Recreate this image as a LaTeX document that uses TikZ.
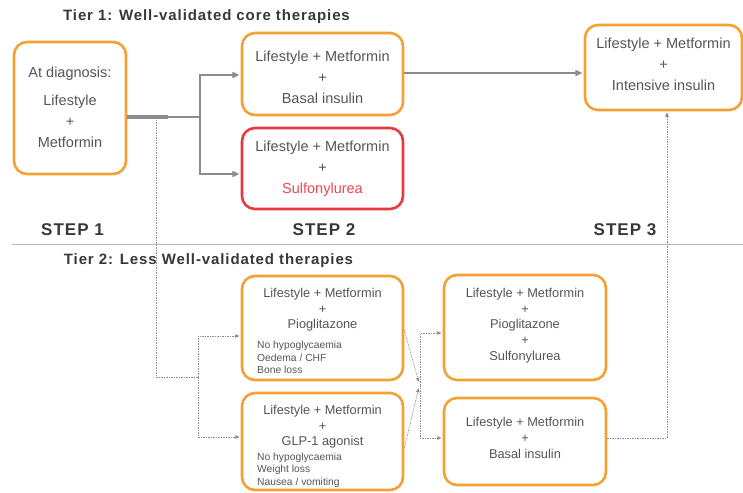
\documentclass[tikz,border=0pt]{standalone}
\usepackage{fontspec}
\setmainfont{Liberation Sans}
\newfontfamily\spacedfont[LetterSpace=6]{Liberation Sans}
\usetikzlibrary{arrows.meta}
\definecolor{boxorange}{HTML}{F5A033}
\definecolor{boxred}{HTML}{E8383F}
\definecolor{redtext}{HTML}{F04850}
\definecolor{txtgray}{HTML}{555555}
\definecolor{linegray}{HTML}{8C8C8C}
\definecolor{headgray}{HTML}{383838}
\begin{document}
\begin{tikzpicture}[x=1pt,y=-1pt,
  obox/.style={draw=boxorange, line width=2.6pt, rounded corners=13pt, fill=white, inner sep=0pt},
  rbox/.style={obox, draw=boxred},
  tone/.style={text=txtgray, align=center, inner sep=0pt, font=\fontsize{14.5}{21}\selectfont},
  ttwo/.style={text=txtgray, align=center, inner sep=0pt, font=\fontsize{12.8}{15.6}\selectfont},
  note/.style={text=txtgray, align=left, anchor=west, inner sep=0pt, font=\fontsize{10.3}{12.5}\selectfont},
  title/.style={text=headgray, inner sep=0pt, font=\spacedfont\bfseries\fontsize{15}{18}\selectfont},
  steplbl/.style={text=headgray, inner sep=0pt, font=\spacedfont\bfseries\fontsize{17}{20}\selectfont},
  mainline/.style={draw=linegray, line width=2.4pt, -{Triangle[length=7pt,width=6pt]}, shorten >=1.3pt},
  dotline/.style={draw=linegray, line width=0.6pt, dash pattern=on 1.5pt off 1pt},
  dotarrow/.style={dotline, -{Triangle[length=4pt,width=3.5pt]}, shorten >=1.3pt}
]
\useasboundingbox (0,0) rectangle (743,492);

% separator
\draw[draw=gray!55, line width=0.6pt, double=white, double distance=0.9pt] (12,245) -- (743,245);

% titles and step labels
\node[title] (t1) at (206.5,17) {Tier 1: Well-validated core therapies};
\node[title] (t2) at (208.5,261) {Tier 2: Less Well-validated therapies};
\node[steplbl] (s1) at (72.5,230) {STEP 1};
\node[steplbl] (s2) at (324,230) {STEP 2};
\node[steplbl] (s3) at (625,230) {STEP 3};

% dotted connectors from step 1 to tier 2
\coordinate (dj) at (156,117);
\coordinate (dk) at (156,377);
\coordinate (dl) at (198,377);

% boxes
\node[obox, minimum width=112pt, minimum height=132pt] (diag) at (70,108) {};
\node[obox, minimum width=161pt, minimum height=82pt] (basal1) at (322.5,74) {};
\node[rbox, minimum width=161pt, minimum height=81pt] (su) at (322.5,168.5) {};
\node[obox, minimum width=157pt, minimum height=85pt] (intensive) at (663.5,67.5) {};
\node[obox, minimum width=161pt, minimum height=104pt] (pio) at (322.5,328) {};
\node[obox, minimum width=161pt, minimum height=97pt] (glp) at (322.5,441.5) {};
\node[obox, minimum width=162pt, minimum height=105pt] (piosu) at (525,327.5) {};
\node[obox, minimum width=162pt, minimum height=87pt] (basal2) at (525,441.5) {};

% box texts
\node[tone] (diagtxt) at (70,107.5) {At diagnosis:\\[7pt]Lifestyle\\+\\Metformin};
\node[tone] (basal1txt) at (322.5,77) {Lifestyle + Metformin\\+\\Basal insulin};
\node[tone] (sutxt) at (322.5,169) {Lifestyle + Metformin\\+\\\textcolor{redtext}{Sulfonylurea}};
\node[tone] (inttxt) at (663.5,64.5) {Lifestyle + Metformin\\+\\Intensive insulin};
\node[ttwo] (piotxt) at (322.5,310) {Lifestyle + Metformin\\+\\Pioglitazone};
\node[note] (pionote) at (257,357.5) {No hypoglycaemia\\Oedema / CHF\\Bone loss};
\node[ttwo] (glptxt) at (322.5,427) {Lifestyle + Metformin\\+\\GLP-1 agonist};
\node[note] (glpnote) at (257,470) {No hypoglycaemia\\Weight loss\\Nausea / vomiting};
\node[ttwo] (piosutxt) at (525,325.5) {Lifestyle + Metformin\\+\\Pioglitazone\\+\\Sulfonylurea};
\node[ttwo] (basal2txt) at (525,438) {Lifestyle + Metformin\\+\\Basal insulin};

% main solid connectors
\coordinate (jA) at (200,117);
\coordinate (jT) at (168,117);
\draw[draw=linegray, line width=3.6pt] ([yshift=-9pt]diag.east) -- (jT);
\draw[mainline] ([yshift=-9pt]diag.east) -- (jA) |- ([yshift=-1pt]basal1.west);
\draw[mainline] (jA) |- ([yshift=-5.5pt]su.west);
\draw[mainline] ([yshift=1pt]basal1.east) -- ([yshift=1pt]basal1.east -| intensive.west);

% dotted connectors
\draw[dotline] (dj) -- (dk) -- (dl);
\draw[dotarrow] (dl) |- ([yshift=-8pt]pio.west);
\draw[dotarrow] (dl) |- ([yshift=4.5pt]glp.west);

\coordinate (mA) at (419,383);
\coordinate (mB) at (419,387);
\coordinate (mC) at (420,385);
\draw[dotarrow] ([yshift=-2pt]pio.east) -- (mA);
\draw[dotarrow] ([yshift=-6.5pt]glp.east) -- (mB);
\draw[dotarrow] (mC) |- ([yshift=-5.5pt]piosu.west);
\draw[dotarrow] (mC) |- ([yshift=3.5pt]basal2.west);
\draw[dotarrow] ([yshift=3.5pt]basal2.east) -| ([xshift=3.5pt]intensive.south);
\end{tikzpicture}
\end{document}
